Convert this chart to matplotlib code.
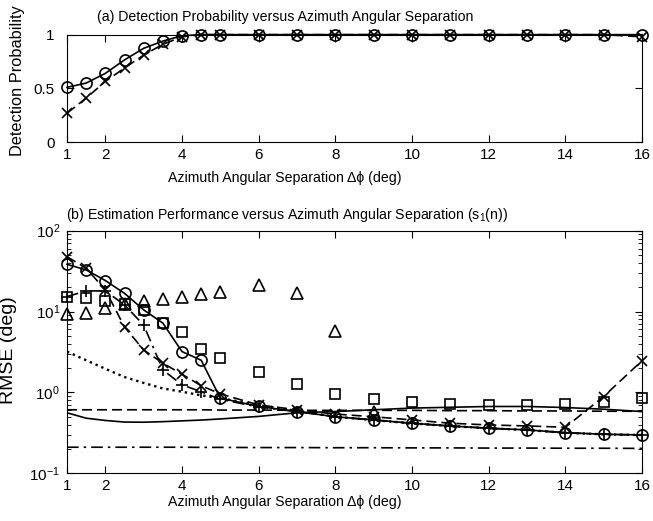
import matplotlib
matplotlib.use('Agg')
import matplotlib.pyplot as plt
import numpy as np

plt.rcParams['font.family'] = ['Liberation Sans', 'DejaVu Sans']
plt.rcParams['mathtext.default'] = 'regular'

# x grid (azimuth separation, deg)
sep = [1, 1.5, 2, 2.5, 3, 3.5, 4, 4.5, 5, 6, 7, 8, 9, 10, 11, 12, 13, 14, 15, 16]

# (a) detection probability
pd_circ = [0.51, 0.55, 0.64, 0.765, 0.873, 0.94, 0.99, 1, 1, 1, 1, 1, 1, 1, 1, 1, 1, 1, 1, 1]
pd_cross = [0.27, 0.41, 0.565, 0.69, 0.81, 0.91, 0.98, 1, 1, 1, 1, 1, 1, 1, 1, 1, 1, 1, 1, 0.98]

# (b) RMSE (deg)
rmse_circ = [38.4, 32.7, 24.2, 16.8, 10.5, 7.2, 3.2, 2.5, 0.85, 0.67, 0.58, 0.50, 0.457,
             0.416, 0.385, 0.361, 0.344, 0.318, 0.304, 0.298]
rmse_cross = [47.7, 34.3, 18.5, 6.45, 3.35, 2.3, 1.68, 1.21, 0.96, 0.70, 0.61, 0.54, 0.50,
              0.457, 0.416, 0.396, 0.385, 0.371, 0.89, 2.47]
rmse_plus = [15.3, 18.0, 18.0, 12.1, 6.8, 1.9, 1.24, 1.02, 0.82, 0.66, 0.58, 0.50, 0.455,
             0.414, 0.383, 0.36, 0.342, 0.317, 0.303, 0.297]
rmse_sq = [15.3, 14.9, 13.5, 12.3, 10.5, 7.3, 5.55, 3.45, 2.65, 1.81, 1.26, 0.96, 0.82,
           0.756, 0.72, 0.70, 0.70, 0.715, 0.77, 0.85]
sep_tri = [1, 1.5, 2, 2.5, 3, 3.5, 4, 4.5, 5, 6, 7, 8, 9]
rmse_tri = [9.3, 9.5, 11.0, 12.4, 13.4, 14.2, 15.3, 16.5, 17.6, 21.3, 16.8, 5.8, 0.58]
bound_dot = [3.2, 2.5, 1.96, 1.55, 1.31, 1.12, 1.02, 0.92, 0.85, 0.70, 0.59, 0.50, 0.455,
             0.414, 0.384, 0.36, 0.343, 0.317, 0.303, 0.297]
bound_solid = [0.56, 0.48, 0.45, 0.43, 0.428, 0.435, 0.445, 0.455, 0.47, 0.505, 0.56, 0.58,
               0.61, 0.64, 0.655, 0.67, 0.67, 0.65, 0.62, 0.58]
bound_dash = [0.61, 0.61, 0.61, 0.61, 0.61, 0.61, 0.61, 0.61, 0.605, 0.605, 0.60, 0.60,
              0.60, 0.60, 0.595, 0.595, 0.59, 0.59, 0.585, 0.585]
bound_dashdot = [0.21, 0.21, 0.21, 0.21, 0.21, 0.21, 0.21, 0.209, 0.209, 0.208, 0.208, 0.207,
                 0.207, 0.206, 0.206, 0.205, 0.205, 0.204, 0.204, 0.203]

xticks = [1, 2, 4, 6, 8, 10, 12, 14, 16]
xlabel = 'Azimuth Angular Separation Δϕ (deg)'
title_a = '(a) Detection Probability versus Azimuth Angular Separation'
title_b = '(b) Estimation Performance versus Azimuth Angular Separation (s$_1$(n))'

W, H = 653, 521
fig = plt.figure(figsize=(6.53, 5.21), dpi=100)
ax1 = fig.add_axes([0.1026, 0.727, 0.8806, 0.2065])
ax2 = fig.add_axes([0.1026, 0.0916, 0.8806, 0.4656])

mk = dict(color='k', mfc='none', mec='k', lw=1.2, mew=1.2, clip_on=False)

ax1.plot(sep, pd_cross, 'x--', dashes=(6, 3), ms=6.5, **mk)
ax1.plot(sep, pd_circ, 'o-', ms=8, **mk)
ax1.set_xlim(1, 16)
ax1.set_ylim(0, 1)
ax1.set_yticks([0, 0.5, 1])
ax1.set_yticklabels(['0', '0.5', '1'])
ax1.set_xticks(xticks)
ax1.set_ylabel('Detection Probability', fontsize=11.8)
ax1.yaxis.set_label_coords(-0.0736, 0.57)

ax2.plot(sep, bound_dot, ':', color='k', lw=1.7)
ax2.plot(sep, bound_solid, '-', color='k', lw=1.2)
ax2.plot(sep, bound_dash, '--', color='k', lw=1.2, dashes=(6, 3))
ax2.plot(sep, bound_dashdot, '-.', color='k', lw=1.2, dashes=(7, 3, 1.5, 3))
ax2.plot(sep, rmse_plus, '+-.', dashes=(7, 3, 1.5, 3), ms=8, **mk)
ax2.plot(sep, rmse_cross, 'x--', dashes=(6, 3), ms=6.5, **mk)
ax2.plot(sep, rmse_circ, 'o-', ms=8, **mk)
ax2.plot(sep, rmse_sq, 's', color='k', mfc='none', mec='k', ms=6.5, mew=1.2, ls='none', clip_on=False)
ax2.plot(sep_tri, rmse_tri, '^', color='k', mfc='none', mec='k', ms=9, mew=1.2, ls='none', clip_on=False)
ax2.set_yscale('log')
ax2.set_xlim(1, 16)
ax2.set_ylim(0.1, 100)
ax2.set_xticks(xticks)
ax2.set_ylabel('RMSE (deg)', fontsize=14)
ax2.yaxis.set_label_coords(-0.0875, 0.508)

# titles and x labels sit left of the axes centre in the reference
fig.text(285 / W, 1 - 17 / H, title_a, fontsize=10.2, ha='center', va='center')
fig.text(285 / W, 1 - 178 / H, xlabel, fontsize=10.2, ha='center', va='center')
fig.text(287 / W, 1 - 215 / H, title_b, fontsize=10.2, ha='center', va='center')
fig.text(285 / W, 1 - 502 / H, xlabel, fontsize=10.2, ha='center', va='center')

for ax in (ax1, ax2):
    ax.tick_params(which='both', direction='in', top=True, right=True, labelsize=11)
    ax.tick_params(which='major', length=5)
    ax.tick_params(which='minor', length=3)
    ax.tick_params(axis='x', pad=4)
    for s in ax.spines.values():
        s.set_linewidth(0.8)
ax1.tick_params(axis='y', pad=9)
ax2.tick_params(axis='y', pad=5)

fig.savefig('out.png', dpi=100)
